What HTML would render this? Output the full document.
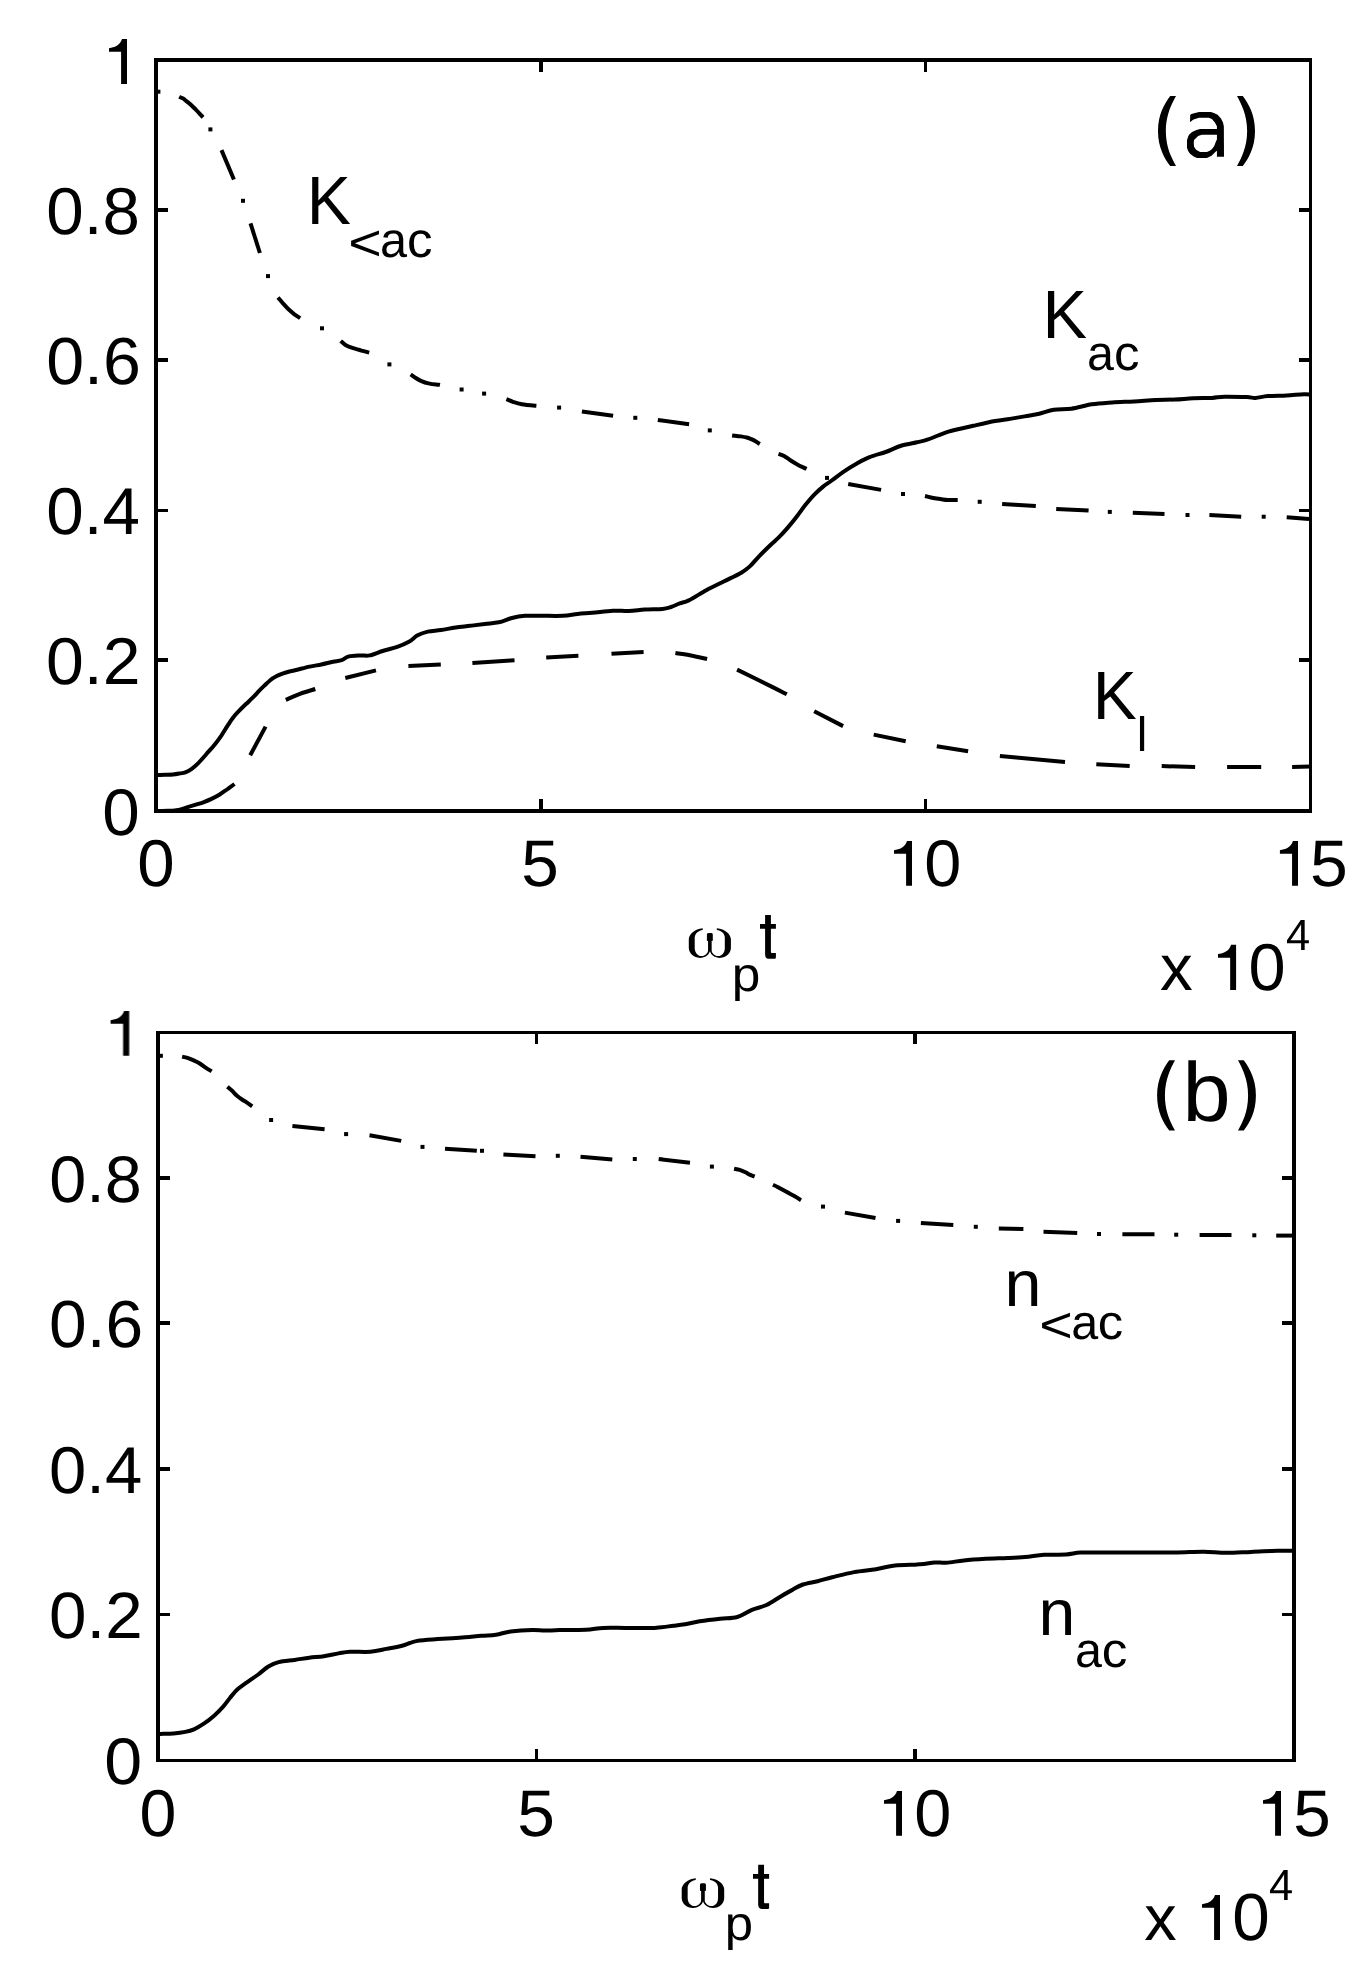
<!DOCTYPE html>
<html><head><meta charset="utf-8"><title>Figure</title>
<style>html,body{margin:0;padding:0;background:#fff;width:1370px;height:1980px;overflow:hidden}svg{display:block;-webkit-font-smoothing:antialiased;text-rendering:geometricPrecision}</style>
</head><body>
<svg width="1370" height="1980" viewBox="0 0 1370 1980">
<rect width="1370" height="1980" fill="#fff"/>
<g fill="#000" style="font-kerning:none;will-change:transform">
<rect x="154.0" y="58.0" width="4.0" height="755.0"/>
<rect x="156.0" y="58.0" width="1156.0" height="4.0"/>
<rect x="1309.0" y="58.0" width="3.0" height="755.0"/>
<rect x="154.0" y="809.0" width="1158.0" height="4.0"/>
<rect x="158.0" y="208.0" width="10.0" height="4.0"/>
<rect x="1299.0" y="208.0" width="10.0" height="4.0"/>
<rect x="158.0" y="358.0" width="10.0" height="4.0"/>
<rect x="1299.0" y="358.0" width="10.0" height="4.0"/>
<rect x="158.0" y="509.0" width="10.0" height="3.0"/>
<rect x="1299.0" y="509.0" width="10.0" height="3.0"/>
<rect x="158.0" y="658.0" width="10.0" height="4.0"/>
<rect x="1299.0" y="658.0" width="10.0" height="4.0"/>
<rect x="539.0" y="799.0" width="4.0" height="10.0"/>
<rect x="539.0" y="62.0" width="4.0" height="10.0"/>
<rect x="924.0" y="799.0" width="3.0" height="10.0"/>
<rect x="924.0" y="62.0" width="3.0" height="10.0"/>
<rect x="156.0" y="1031.0" width="4.0" height="731.0"/>
<rect x="156.0" y="1031.0" width="1140.0" height="3.0"/>
<rect x="1292.0" y="1031.0" width="4.0" height="731.0"/>
<rect x="156.0" y="1759.0" width="1140.0" height="3.0"/>
<rect x="160.0" y="1176.0" width="10.0" height="4.0"/>
<rect x="1282.0" y="1176.0" width="10.0" height="4.0"/>
<rect x="160.0" y="1321.0" width="10.0" height="4.0"/>
<rect x="1282.0" y="1321.0" width="10.0" height="4.0"/>
<rect x="160.0" y="1467.0" width="10.0" height="4.0"/>
<rect x="1282.0" y="1467.0" width="10.0" height="4.0"/>
<rect x="160.0" y="1613.0" width="10.0" height="3.0"/>
<rect x="1282.0" y="1613.0" width="10.0" height="3.0"/>
<rect x="535.0" y="1749.0" width="3.0" height="10.0"/>
<rect x="535.0" y="1034.0" width="3.0" height="10.0"/>
<rect x="913.0" y="1749.0" width="4.0" height="10.0"/>
<rect x="913.0" y="1034.0" width="4.0" height="10.0"/>
<path d="M156.0 775.0C157.5 775.0 162.2 774.9 165.0 774.8C167.8 774.7 170.5 774.7 173.0 774.5C175.5 774.3 177.9 773.8 180.0 773.4C182.1 773.0 183.4 773.0 185.3 772.3C187.2 771.6 189.4 770.5 191.4 769.1C193.4 767.7 195.0 766.4 197.5 763.9C200.0 761.4 203.4 757.5 206.3 754.2C209.2 750.9 212.5 747.3 215.0 744.2C217.5 741.1 219.1 738.8 221.2 735.8C223.2 732.8 225.4 729.1 227.3 726.2C229.2 723.3 230.8 720.6 232.6 718.3C234.3 716.0 235.6 714.5 237.8 712.2C240.0 709.9 243.2 706.7 245.7 704.3C248.2 701.9 250.5 699.9 252.7 697.7C254.9 695.5 256.9 693.2 258.8 691.2C260.7 689.2 262.2 687.7 264.1 685.9C266.0 684.1 268.2 681.8 270.2 680.2C272.2 678.6 274.2 677.4 276.3 676.3C278.4 675.2 280.3 674.4 282.5 673.6C284.7 672.8 287.4 672.0 289.5 671.5C291.6 671.0 291.6 671.1 295.0 670.3C298.4 669.5 305.2 667.6 309.6 666.6C314.0 665.6 317.4 665.3 321.3 664.5C325.2 663.7 329.6 662.5 333.0 661.8C336.4 661.1 339.0 661.0 341.7 660.1C344.4 659.2 345.8 657.2 349.0 656.4C352.2 655.6 357.3 655.6 360.7 655.4C364.1 655.2 365.9 656.1 369.5 655.4C373.1 654.7 378.0 652.4 382.6 651.0C387.2 649.6 392.8 648.4 397.2 646.9C401.6 645.4 405.5 643.7 408.9 641.8C412.3 639.9 414.5 637.0 417.6 635.3C420.8 633.6 423.9 632.5 427.8 631.6C431.7 630.7 436.4 630.8 441.0 630.1C445.6 629.4 450.7 628.2 455.6 627.5C460.5 626.8 465.3 626.4 470.2 625.8C475.1 625.2 480.0 624.5 484.8 623.9C489.6 623.3 494.3 623.3 498.8 622.3C503.3 621.3 507.5 619.1 511.9 618.0C516.3 616.9 520.1 616.2 525.0 615.8C529.9 615.4 534.8 615.8 541.1 615.8C547.4 615.8 556.9 616.1 563.0 615.8C569.1 615.5 572.7 614.4 577.6 613.9C582.5 613.4 586.4 613.3 592.2 612.8C598.0 612.3 606.5 611.0 612.6 610.7C618.7 610.4 623.4 611.2 628.7 611.0C634.1 610.8 639.1 609.9 644.7 609.5C650.3 609.1 657.9 609.3 662.3 608.9C666.7 608.5 668.1 607.9 671.0 607.0C673.9 606.1 676.8 604.5 679.8 603.4C682.8 602.3 684.4 602.6 688.8 600.4C693.2 598.2 700.5 593.4 706.3 590.2C712.1 587.1 718.0 584.4 723.8 581.5C729.6 578.6 736.9 575.3 741.3 572.7C745.7 570.1 747.2 568.8 750.1 566.1C753.0 563.4 755.4 560.1 758.8 556.6C762.2 553.1 767.1 548.3 770.5 545.0C773.9 541.7 776.4 539.8 779.3 536.9C782.2 534.0 785.1 530.8 788.0 527.4C790.9 524.0 793.9 520.3 796.8 516.5C799.7 512.7 802.6 508.4 805.5 504.8C808.4 501.2 811.4 497.6 814.3 494.6C817.2 491.6 820.2 489.0 823.1 486.6C826.0 484.2 828.3 483.0 831.7 480.5C835.1 478.0 839.3 474.6 843.4 471.8C847.5 469.0 852.1 466.1 856.5 463.7C860.9 461.3 864.7 459.1 869.6 457.2C874.5 455.2 880.3 453.9 885.7 452.0C891.1 450.1 895.2 447.4 901.8 445.5C908.4 443.6 917.3 442.7 925.1 440.4C932.9 438.1 940.5 434.0 948.5 431.6C956.5 429.2 965.5 427.6 973.3 425.8C981.1 424.0 989.1 422.1 995.2 421.0C1001.3 419.9 1005.1 419.7 1010.0 418.9C1014.9 418.1 1019.7 417.2 1024.6 416.4C1029.5 415.5 1034.3 414.9 1039.2 413.8C1044.1 412.7 1048.5 410.6 1053.8 409.7C1059.1 408.8 1065.0 409.6 1071.3 408.7C1077.6 407.8 1085.0 405.4 1091.8 404.3C1098.6 403.2 1105.2 402.9 1112.2 402.4C1119.2 401.9 1126.8 401.8 1134.1 401.4C1141.4 401.0 1149.2 400.2 1156.0 399.9C1162.8 399.6 1168.6 399.8 1174.8 399.5C1181.0 399.2 1187.2 398.6 1193.4 398.3C1199.6 398.0 1206.8 398.2 1212.0 397.9C1217.2 397.6 1218.7 396.8 1224.5 396.7C1230.3 396.6 1241.6 396.9 1246.8 397.1C1252.0 397.3 1252.0 398.1 1255.5 397.9C1259.0 397.7 1262.7 396.5 1267.9 396.1C1273.1 395.7 1280.5 395.7 1286.5 395.4C1292.5 395.1 1299.9 394.3 1303.9 394.2C1307.9 394.1 1309.4 394.4 1310.5 394.5" fill="none" stroke="#000" stroke-width="4" stroke-linejoin="round" stroke-linecap="butt"/>
<path d="M158.0 1734.0C158.4 1734.0 157.8 1734.0 160.4 1733.9C163.0 1733.8 169.4 1733.7 173.5 1733.4C177.6 1733.1 181.8 1732.6 185.2 1731.9C188.6 1731.2 190.8 1730.7 194.0 1729.3C197.2 1727.9 200.8 1725.7 204.2 1723.4C207.6 1721.1 211.2 1718.2 214.4 1715.4C217.6 1712.6 220.5 1709.6 223.2 1706.6C225.9 1703.6 228.1 1700.1 230.5 1697.2C232.9 1694.3 235.1 1691.5 237.8 1689.1C240.5 1686.7 243.1 1685.0 246.5 1682.6C249.9 1680.2 254.5 1677.2 258.2 1674.5C261.8 1671.8 265.0 1668.6 268.4 1666.5C271.8 1664.4 274.2 1663.2 278.6 1662.1C283.0 1661.0 289.6 1660.6 294.7 1659.9C299.8 1659.2 304.4 1658.3 309.3 1657.7C314.2 1657.1 319.0 1657.0 323.9 1656.3C328.8 1655.6 334.1 1654.2 338.5 1653.4C342.9 1652.7 344.7 1652.1 350.0 1651.8C355.3 1651.5 364.3 1652.3 370.4 1651.8C376.5 1651.3 381.4 1649.9 386.5 1648.9C391.6 1647.9 396.0 1647.3 401.1 1646.0C406.2 1644.7 411.1 1642.1 417.2 1640.9C423.3 1639.8 430.6 1639.6 437.6 1639.1C444.7 1638.6 452.2 1638.2 459.5 1637.7C466.8 1637.2 475.3 1636.3 481.4 1635.8C487.5 1635.3 491.1 1635.4 496.0 1634.7C500.9 1634.0 504.5 1632.2 510.6 1631.4C516.7 1630.6 526.8 1630.0 532.5 1629.9C538.2 1629.8 540.5 1630.6 545.0 1630.6C549.5 1630.6 552.8 1630.2 559.6 1630.1C566.4 1630.0 578.6 1630.2 585.9 1629.8C593.2 1629.4 596.8 1628.2 603.4 1627.9C610.0 1627.6 616.8 1627.9 625.3 1627.9C633.8 1627.9 646.5 1628.3 654.5 1627.9C662.5 1627.5 668.4 1626.3 673.5 1625.7C678.6 1625.1 680.7 1624.9 685.1 1624.2C689.5 1623.5 693.9 1622.2 699.7 1621.3C705.6 1620.4 713.9 1619.4 720.2 1618.7C726.5 1618.0 732.0 1618.5 737.3 1617.0C742.6 1615.5 747.0 1611.8 751.9 1609.8C756.8 1607.8 761.6 1607.3 766.5 1605.0C771.4 1602.7 776.7 1598.8 781.1 1596.2C785.5 1593.6 789.1 1591.5 792.8 1589.6C796.4 1587.6 798.9 1585.9 803.0 1584.5C807.1 1583.1 812.7 1582.4 817.6 1581.2C822.5 1580.0 826.1 1578.7 832.2 1577.2C838.3 1575.7 846.8 1573.4 854.1 1572.1C861.4 1570.8 869.2 1570.3 876.0 1569.2C882.8 1568.1 887.7 1566.3 895.0 1565.5C902.3 1564.7 913.4 1564.8 920.0 1564.3C926.6 1563.8 930.2 1562.7 934.6 1562.4C939.0 1562.2 941.4 1563.1 946.3 1562.8C951.2 1562.5 957.2 1561.1 963.8 1560.4C970.4 1559.7 978.4 1559.2 985.7 1558.8C993.0 1558.4 1001.0 1558.3 1007.6 1558.0C1014.2 1557.7 1019.0 1557.5 1025.1 1557.0C1031.2 1556.5 1037.3 1555.2 1044.1 1554.8C1050.9 1554.4 1059.9 1554.9 1066.0 1554.5C1072.1 1554.1 1074.5 1552.9 1080.6 1552.6C1086.7 1552.3 1096.0 1552.6 1102.5 1552.6C1109.0 1552.6 1111.4 1552.6 1119.3 1552.6C1127.2 1552.6 1140.3 1552.4 1150.0 1552.4C1159.7 1552.4 1168.5 1552.5 1177.4 1552.4C1186.4 1552.3 1195.5 1551.6 1203.7 1551.7C1211.9 1551.8 1218.5 1552.8 1226.4 1552.8C1234.3 1552.8 1242.5 1552.2 1251.0 1551.9C1259.5 1551.6 1270.0 1551.0 1277.2 1550.8C1284.4 1550.6 1291.2 1550.7 1294.0 1550.7" fill="none" stroke="#000" stroke-width="4" stroke-linejoin="round" stroke-linecap="butt"/>
<path d="M156.0 811.0C158.0 811.0 164.8 810.9 168.0 810.8C171.2 810.7 173.0 810.6 175.0 810.4C177.0 810.2 178.5 810.1 179.8 809.8C181.1 809.5 181.8 809.1 183.0 808.7C184.2 808.3 184.9 808.0 186.9 807.4C188.9 806.8 192.4 805.8 195.1 804.9C197.8 804.0 200.6 803.3 203.3 802.3C206.0 801.3 208.8 800.2 211.5 798.9C214.2 797.6 217.0 796.2 219.7 794.5C222.4 792.8 225.4 790.5 227.9 788.8C230.4 787.0 233.4 784.8 234.5 784.0" fill="none" stroke="#000" stroke-width="4" stroke-linejoin="round" stroke-linecap="butt"/>
<path d="M250.2 755.3L265.6 726.6" fill="none" stroke="#000" stroke-width="4" stroke-linejoin="round" stroke-linecap="butt"/>
<path d="M285.8 699.9C288.2 698.9 295.1 695.6 300.0 693.8C304.9 692.0 312.8 689.8 315.3 689.0" fill="none" stroke="#000" stroke-width="4" stroke-linejoin="round" stroke-linecap="butt"/>
<path d="M345.3 678.0L376.0 670.4" fill="none" stroke="#000" stroke-width="4" stroke-linejoin="round" stroke-linecap="butt"/>
<path d="M408.4 666.0L440.8 664.5" fill="none" stroke="#000" stroke-width="4" stroke-linejoin="round" stroke-linecap="butt"/>
<path d="M472.4 662.9L514.5 660.3" fill="none" stroke="#000" stroke-width="4" stroke-linejoin="round" stroke-linecap="butt"/>
<path d="M546.2 657.4L578.4 655.7" fill="none" stroke="#000" stroke-width="4" stroke-linejoin="round" stroke-linecap="butt"/>
<path d="M611.5 653.7L643.6 652.0" fill="none" stroke="#000" stroke-width="4" stroke-linejoin="round" stroke-linecap="butt"/>
<path d="M675.4 653.1C678.0 653.5 685.7 654.5 691.0 655.5C696.3 656.5 704.4 658.4 707.1 659.0" fill="none" stroke="#000" stroke-width="4" stroke-linejoin="round" stroke-linecap="butt"/>
<path d="M737.1 669.6C743.0 672.5 764.3 683.0 772.6 687.1C780.9 691.2 784.4 693.1 786.8 694.3" fill="none" stroke="#000" stroke-width="4" stroke-linejoin="round" stroke-linecap="butt"/>
<path d="M814.2 711.2L843.1 726.1" fill="none" stroke="#000" stroke-width="4" stroke-linejoin="round" stroke-linecap="butt"/>
<path d="M873.7 734.6L905.7 741.2" fill="none" stroke="#000" stroke-width="4" stroke-linejoin="round" stroke-linecap="butt"/>
<path d="M936.8 746.2L968.1 751.2" fill="none" stroke="#000" stroke-width="4" stroke-linejoin="round" stroke-linecap="butt"/>
<path d="M999.9 756.1L1065.0 761.9" fill="none" stroke="#000" stroke-width="4" stroke-linejoin="round" stroke-linecap="butt"/>
<path d="M1096.3 764.3L1129.7 766.1" fill="none" stroke="#000" stroke-width="4" stroke-linejoin="round" stroke-linecap="butt"/>
<path d="M1161.7 766.1L1195.1 767.0" fill="none" stroke="#000" stroke-width="4" stroke-linejoin="round" stroke-linecap="butt"/>
<path d="M1227.1 767.0L1261.2 767.0" fill="none" stroke="#000" stroke-width="4" stroke-linejoin="round" stroke-linecap="butt"/>
<path d="M1292.1 767.0L1310.5 766.6" fill="none" stroke="#000" stroke-width="4" stroke-linejoin="round" stroke-linecap="butt"/>
<rect x="156.4" y="89.7" width="4" height="4"/>
<path d="M179.2 96.8C179.8 97.1 181.9 97.9 183.1 98.6C184.3 99.3 185.0 100.0 186.4 101.1C187.8 102.2 189.9 103.8 191.4 105.2C192.9 106.6 194.2 108.0 195.6 109.4C197.0 110.8 198.4 112.3 199.6 113.6C200.8 114.9 202.4 116.7 203.0 117.3" fill="none" stroke="#000" stroke-width="4" stroke-linejoin="round" stroke-linecap="butt"/>
<rect x="208.4" y="127.4" width="4" height="4"/>
<path d="M221.5 150.1L233.9 179.5" fill="none" stroke="#000" stroke-width="4" stroke-linejoin="round" stroke-linecap="butt"/>
<rect x="241.0" y="198.8" width="4" height="4"/>
<path d="M250.5 223.3L259.9 253.0" fill="none" stroke="#000" stroke-width="4" stroke-linejoin="round" stroke-linecap="butt"/>
<rect x="266.0" y="274.1" width="4" height="4"/>
<path d="M278.0 297.5C278.8 298.4 281.1 301.2 282.8 303.2C284.6 305.2 286.6 307.5 288.5 309.3C290.4 311.1 292.2 312.6 294.1 314.1C296.1 315.6 299.2 317.5 300.2 318.2" fill="none" stroke="#000" stroke-width="4" stroke-linejoin="round" stroke-linecap="butt"/>
<rect x="320.0" y="326.3" width="4" height="4"/>
<path d="M340.7 341.0C341.5 341.7 343.9 344.0 345.5 345.0C347.1 346.0 348.2 346.4 350.3 347.2C352.4 348.0 355.2 348.7 358.3 349.6C361.4 350.5 367.4 352.1 369.2 352.6" fill="none" stroke="#000" stroke-width="4" stroke-linejoin="round" stroke-linecap="butt"/>
<rect x="387.4" y="362.4" width="4" height="4"/>
<path d="M410.7 374.4C411.6 375.0 414.1 376.9 415.8 378.0C417.5 379.1 418.8 379.9 420.9 380.8C423.0 381.7 425.9 382.8 428.5 383.4C431.1 384.0 434.3 384.4 436.2 384.6C438.1 384.9 439.4 384.8 440.0 384.9" fill="none" stroke="#000" stroke-width="4" stroke-linejoin="round" stroke-linecap="butt"/>
<rect x="459.6" y="387.5" width="4" height="4"/>
<rect x="482.1" y="391.6" width="4" height="4"/>
<path d="M506.4 399.2C507.5 399.6 510.4 400.9 513.0 401.8C515.6 402.7 517.9 403.6 521.8 404.3C525.7 405.0 534.0 405.6 536.4 405.8" fill="none" stroke="#000" stroke-width="4" stroke-linejoin="round" stroke-linecap="butt"/>
<rect x="557.1" y="405.6" width="4" height="4"/>
<path d="M581.9 411.4L613.1 415.8" fill="none" stroke="#000" stroke-width="4" stroke-linejoin="round" stroke-linecap="butt"/>
<rect x="633.3" y="415.8" width="4" height="4"/>
<path d="M657.8 419.9L689.1 424.2" fill="none" stroke="#000" stroke-width="4" stroke-linejoin="round" stroke-linecap="butt"/>
<rect x="707.8" y="428.4" width="4" height="4"/>
<path d="M732.1 435.4C733.5 435.6 738.4 436.0 740.8 436.4C743.2 436.8 745.0 437.1 746.7 437.5C748.5 437.9 749.8 438.5 751.3 439.1C752.8 439.8 754.5 440.6 755.9 441.4C757.3 442.2 759.1 443.7 759.8 444.1" fill="none" stroke="#000" stroke-width="4" stroke-linejoin="round" stroke-linecap="butt"/>
<path d="M778.5 453.9C779.4 454.2 782.1 454.9 784.1 456.0C786.1 457.1 788.5 459.1 790.7 460.5C792.9 461.9 794.7 463.0 797.3 464.4C799.9 465.8 805.0 468.2 806.5 469.0" fill="none" stroke="#000" stroke-width="4" stroke-linejoin="round" stroke-linecap="butt"/>
<rect x="825.0" y="475.9" width="4" height="4"/>
<path d="M848.2 484.0L881.1 489.9" fill="none" stroke="#000" stroke-width="4" stroke-linejoin="round" stroke-linecap="butt"/>
<rect x="901.0" y="492.0" width="4" height="4"/>
<path d="M925.0 496.0C926.4 496.3 930.6 497.5 933.2 498.0C935.8 498.5 938.1 498.8 940.5 499.1C942.9 499.4 944.9 499.9 947.8 500.0C950.7 500.1 956.1 500.0 957.7 500.0" fill="none" stroke="#000" stroke-width="4" stroke-linejoin="round" stroke-linecap="butt"/>
<rect x="977.7" y="499.8" width="4" height="4"/>
<path d="M1002.1 503.9L1035.8 505.9" fill="none" stroke="#000" stroke-width="4" stroke-linejoin="round" stroke-linecap="butt"/>
<path d="M1056.2 509.0L1088.6 510.6" fill="none" stroke="#000" stroke-width="4" stroke-linejoin="round" stroke-linecap="butt"/>
<rect x="1107.8" y="509.9" width="4" height="4"/>
<path d="M1132.8 512.8L1164.5 514.1" fill="none" stroke="#000" stroke-width="4" stroke-linejoin="round" stroke-linecap="butt"/>
<rect x="1185.5" y="513.0" width="4" height="4"/>
<path d="M1209.4 515.0L1241.2 516.7" fill="none" stroke="#000" stroke-width="4" stroke-linejoin="round" stroke-linecap="butt"/>
<rect x="1261.7" y="514.7" width="4" height="4"/>
<path d="M1286.7 517.2L1309.0 518.9" fill="none" stroke="#000" stroke-width="4" stroke-linejoin="round" stroke-linecap="butt"/>
<rect x="158.9" y="1053.8" width="4" height="4"/>
<path d="M182.1 1056.7C183.0 1056.9 185.5 1057.3 187.4 1057.9C189.3 1058.5 191.5 1059.5 193.6 1060.4C195.7 1061.3 197.7 1062.2 199.8 1063.5C201.9 1064.8 204.0 1066.6 206.0 1067.9C208.0 1069.2 210.7 1070.7 211.6 1071.3" fill="none" stroke="#000" stroke-width="4" stroke-linejoin="round" stroke-linecap="butt"/>
<path d="M227.4 1086.8C228.2 1087.5 230.5 1089.3 232.1 1090.8C233.7 1092.3 235.3 1094.3 237.0 1095.8C238.7 1097.2 240.3 1098.4 242.0 1099.5C243.7 1100.6 245.3 1101.5 247.0 1102.6C248.7 1103.7 251.3 1105.7 252.2 1106.3" fill="none" stroke="#000" stroke-width="4" stroke-linejoin="round" stroke-linecap="butt"/>
<rect x="269.1" y="1118.0" width="4" height="4"/>
<path d="M292.4 1126.0L324.6 1129.3" fill="none" stroke="#000" stroke-width="4" stroke-linejoin="round" stroke-linecap="butt"/>
<rect x="344.1" y="1132.1" width="4" height="4"/>
<path d="M369.5 1135.2L401.2 1140.9" fill="none" stroke="#000" stroke-width="4" stroke-linejoin="round" stroke-linecap="butt"/>
<rect x="420.5" y="1144.9" width="4" height="4"/>
<path d="M445.0 1148.7L476.8 1150.8" fill="none" stroke="#000" stroke-width="4" stroke-linejoin="round" stroke-linecap="butt"/>
<rect x="480.0" y="1148.8" width="4" height="4"/>
<path d="M503.4 1154.5L535.5 1156.3" fill="none" stroke="#000" stroke-width="4" stroke-linejoin="round" stroke-linecap="butt"/>
<rect x="555.8" y="1153.8" width="4" height="4"/>
<path d="M580.5 1156.8L612.3 1159.4" fill="none" stroke="#000" stroke-width="4" stroke-linejoin="round" stroke-linecap="butt"/>
<rect x="632.8" y="1157.0" width="4" height="4"/>
<path d="M658.7 1159.0L690.0 1162.7" fill="none" stroke="#000" stroke-width="4" stroke-linejoin="round" stroke-linecap="butt"/>
<rect x="709.9" y="1164.6" width="4" height="4"/>
<path d="M734.1 1168.8C735.0 1169.0 737.8 1169.3 739.7 1169.9C741.6 1170.5 743.8 1171.5 745.5 1172.3C747.2 1173.1 748.7 1174.2 750.2 1174.9C751.7 1175.6 753.9 1176.3 754.6 1176.6" fill="none" stroke="#000" stroke-width="4" stroke-linejoin="round" stroke-linecap="butt"/>
<path d="M773.0 1184.8C773.8 1185.2 775.4 1185.7 777.6 1186.9C779.8 1188.1 783.5 1190.2 786.4 1191.8C789.3 1193.4 792.8 1195.1 795.2 1196.5C797.6 1197.9 800.0 1199.7 801.0 1200.3" fill="none" stroke="#000" stroke-width="4" stroke-linejoin="round" stroke-linecap="butt"/>
<rect x="821.0" y="1204.6" width="4" height="4"/>
<path d="M844.9 1212.6L875.5 1218.0" fill="none" stroke="#000" stroke-width="4" stroke-linejoin="round" stroke-linecap="butt"/>
<rect x="896.1" y="1218.9" width="4" height="4"/>
<path d="M920.9 1223.1L953.3 1225.0" fill="none" stroke="#000" stroke-width="4" stroke-linejoin="round" stroke-linecap="butt"/>
<rect x="973.8" y="1224.8" width="4" height="4"/>
<path d="M998.8 1228.5L1023.4 1229.0" fill="none" stroke="#000" stroke-width="4" stroke-linejoin="round" stroke-linecap="butt"/>
<path d="M1043.5 1231.8L1077.2 1232.9" fill="none" stroke="#000" stroke-width="4" stroke-linejoin="round" stroke-linecap="butt"/>
<rect x="1097.0" y="1232.0" width="4" height="4"/>
<path d="M1122.4 1234.2L1154.5 1234.3" fill="none" stroke="#000" stroke-width="4" stroke-linejoin="round" stroke-linecap="butt"/>
<rect x="1174.2" y="1232.7" width="4" height="4"/>
<path d="M1199.6 1234.9L1231.5 1234.9" fill="none" stroke="#000" stroke-width="4" stroke-linejoin="round" stroke-linecap="butt"/>
<rect x="1252.3" y="1233.3" width="4" height="4"/>
<path d="M1276.2 1235.6L1293.6 1235.6" fill="none" stroke="#000" stroke-width="4" stroke-linejoin="round" stroke-linecap="butt"/>
<path transform="translate(109.00 39.00) scale(1.0000 1.0067)" d="M0 9.2C5.5 8.3 11 6.6 13 0L18 0L18 44.7L12.1 44.7L12.1 12.7L0 12.7Z"/>
<text transform="translate(46.37 234.05) scale(0.6730 0.6638)" font-family='"Liberation Sans", sans-serif' font-size="100">0.8</text>
<text transform="translate(46.14 384.35) scale(0.6816 0.6652)" font-family='"Liberation Sans", sans-serif' font-size="100">0.6</text>
<text transform="translate(46.17 534.15) scale(0.6741 0.6624)" font-family='"Liberation Sans", sans-serif' font-size="100">0.4</text>
<text transform="translate(46.05 684.35) scale(0.6796 0.6638)" font-family='"Liberation Sans", sans-serif' font-size="100">0.2</text>
<text transform="translate(102.27 835.16) scale(0.6736 0.6582)" font-family='"Liberation Sans", sans-serif' font-size="100">0</text>
<text transform="translate(137.28 886.25) scale(0.6715 0.6610)" font-family='"Liberation Sans", sans-serif' font-size="100">0</text>
<text transform="translate(521.20 886.26) scale(0.6749 0.6593)" font-family='"Liberation Sans", sans-serif' font-size="100">5</text>
<path transform="translate(894.00 841.00) scale(1.0000 1.0000)" d="M0 9.2C5.5 8.3 11 6.6 13 0L18 0L18 44.7L12.1 44.7L12.1 12.7L0 12.7Z"/>
<text transform="translate(924.29 886.06) scale(0.6673 0.6596)" font-family='"Liberation Sans", sans-serif' font-size="100">0</text>
<path transform="translate(1279.90 841.00) scale(1.0056 1.0022)" d="M0 9.2C5.5 8.3 11 6.6 13 0L18 0L18 44.7L12.1 44.7L12.1 12.7L0 12.7Z"/>
<text transform="translate(1310.08 886.16) scale(0.6792 0.6564)" font-family='"Liberation Sans", sans-serif' font-size="100">5</text>
<path transform="translate(683.657 922.134) scale(0.03810 0.03785)" d="M500,160C290,170 135,330 135,450L135,680C135,820 260,945 430,945C560,945 660,870 690,770C720,870 820,945 950,945C1120,945 1240,820 1240,680L1240,450C1240,330 1090,170 870,160L870,205C975,215 1075,290 1080,400L1080,690C1080,820 995,895 915,895C815,895 745,820 735,760L735,500L765,490L765,330C765,300 740,290 690,290C640,290 610,300 610,330L610,490L640,500L640,760C630,820 560,895 460,895C380,895 295,820 290,690L290,400C300,290 400,215 500,205Z"/>
<text transform="translate(731.69 990.97) scale(0.5137 0.4831)" font-family='"Liberation Sans", sans-serif' font-size="100">p</text>
<path transform="translate(760.00 915.00) scale(1.0000 1.0000)" d="M5.1,0L10.9,0L10.9,9L15.9,9L15.9,13.8L10.9,13.8L10.9,36.8C10.9,37.8 11.5,38.1 12.1,38.1L15.9,38.1L15.9,42.5C15.9,43.3 15.3,43.8 14.7,43.8L8.3,43.8C6.5,43.8 5.1,42 5.1,39.4L5.1,13.8L0,13.8L0,9L5.1,9Z"/>
<text transform="translate(1159.96 990.10) scale(0.6548 0.6473)" font-family='"Liberation Sans", sans-serif' font-size="100">x</text>
<path transform="translate(1218.00 944.80) scale(1.0056 1.0134)" d="M0 9.2C5.5 8.3 11 6.6 13 0L18 0L18 44.7L12.1 44.7L12.1 12.7L0 12.7Z"/>
<text transform="translate(1248.39 990.15) scale(0.6673 0.6624)" font-family='"Liberation Sans", sans-serif' font-size="100">0</text>
<text transform="translate(1285.90 949.90) scale(0.4346 0.4361)" font-family='"Liberation Sans", sans-serif' font-size="100">4</text>
<path transform="translate(1152.000 89.994) scale(0.04138 0.04142)" d="M440,145L580,145C480,330 335,600 335,990C335,1390 480,1650 580,1835L440,1835C300,1650 145,1390 145,990C145,600 300,330 440,145Z"/>
<path fill-rule="evenodd" transform="translate(1182.964 105.947) scale(0.03364 0.03363)" d="M215,270L250,240L360,210L480,180L830,180L920,210L1030,265L1130,370L1190,490L1215,600L1220,1510L1010,1510L1010,1330L970,1360L850,1480L710,1545L420,1545L330,1510L210,1420L150,1330L120,1240L120,1020L150,920L180,860L270,775L400,715L510,688L1010,685L1010,600L985,560L950,490L860,390L770,350L480,350L360,385L300,410L230,470L210,470ZM1010,860L560,860L450,890L330,1010L320,1100L330,1210L390,1300L510,1370L710,1370L800,1330L870,1270L930,1190L980,1060L1010,1000Z"/>
<path transform="translate(1261.000 89.994) scale(-0.04138 0.04142)" d="M440,145L580,145C480,330 335,600 335,990C335,1390 480,1650 580,1835L440,1835C300,1650 145,1390 145,990C145,600 300,330 440,145Z"/>
<text transform="translate(306.67 224.00) scale(0.6623 0.6846)" font-family='"Liberation Sans", sans-serif' font-size="100">K</text>
<text transform="translate(348.27 259.61) scale(0.5743 0.5061)" font-family='"Liberation Sans", sans-serif' font-size="100">&lt;</text>
<text transform="translate(380.03 256.61) scale(0.4867 0.4983)" font-family='"Liberation Sans", sans-serif' font-size="100">a</text>
<text transform="translate(406.93 256.61) scale(0.5103 0.4983)" font-family='"Liberation Sans", sans-serif' font-size="100">c</text>
<text transform="translate(1042.42 338.00) scale(0.6676 0.6832)" font-family='"Liberation Sans", sans-serif' font-size="100">K</text>
<text transform="translate(1087.04 370.42) scale(0.4847 0.4910)" font-family='"Liberation Sans", sans-serif' font-size="100">a</text>
<text transform="translate(1113.93 370.42) scale(0.5103 0.4910)" font-family='"Liberation Sans", sans-serif' font-size="100">c</text>
<text transform="translate(1092.68 718.90) scale(0.6606 0.6817)" font-family='"Liberation Sans", sans-serif' font-size="100">K</text>
<text transform="translate(1136.68 751.00) scale(0.4779 0.4830)" font-family='"Liberation Sans", sans-serif' font-size="100">l</text>
<path transform="translate(110.60 1011.00) scale(1.0333 1.0022)" d="M0 9.2C5.5 8.3 11 6.6 13 0L18 0L18 44.7L12.1 44.7L12.1 12.7L0 12.7Z"/>
<text transform="translate(49.30 1201.86) scale(0.6661 0.6582)" font-family='"Liberation Sans", sans-serif' font-size="100">0.8</text>
<text transform="translate(49.06 1347.45) scale(0.6771 0.6667)" font-family='"Liberation Sans", sans-serif' font-size="100">0.6</text>
<text transform="translate(49.08 1492.95) scale(0.6696 0.6624)" font-family='"Liberation Sans", sans-serif' font-size="100">0.4</text>
<text transform="translate(49.07 1637.96) scale(0.6742 0.6554)" font-family='"Liberation Sans", sans-serif' font-size="100">0.2</text>
<text transform="translate(104.14 1784.06) scale(0.6820 0.6596)" font-family='"Liberation Sans", sans-serif' font-size="100">0</text>
<text transform="translate(139.51 1836.25) scale(0.6631 0.6610)" font-family='"Liberation Sans", sans-serif' font-size="100">0</text>
<text transform="translate(517.19 1836.26) scale(0.6770 0.6593)" font-family='"Liberation Sans", sans-serif' font-size="100">5</text>
<path transform="translate(884.00 1791.00) scale(1.0000 1.0022)" d="M0 9.2C5.5 8.3 11 6.6 13 0L18 0L18 44.7L12.1 44.7L12.1 12.7L0 12.7Z"/>
<text transform="translate(914.29 1836.15) scale(0.6673 0.6624)" font-family='"Liberation Sans", sans-serif' font-size="100">0</text>
<path transform="translate(1263.00 1791.00) scale(1.0000 1.0022)" d="M0 9.2C5.5 8.3 11 6.6 13 0L18 0L18 44.7L12.1 44.7L12.1 12.7L0 12.7Z"/>
<text transform="translate(1293.30 1836.16) scale(0.6749 0.6564)" font-family='"Liberation Sans", sans-serif' font-size="100">5</text>
<path transform="translate(676.508 1872.114) scale(0.03846 0.03797)" d="M500,160C290,170 135,330 135,450L135,680C135,820 260,945 430,945C560,945 660,870 690,770C720,870 820,945 950,945C1120,945 1240,820 1240,680L1240,450C1240,330 1090,170 870,160L870,205C975,215 1075,290 1080,400L1080,690C1080,820 995,895 915,895C815,895 745,820 735,760L735,500L765,490L765,330C765,300 740,290 690,290C640,290 610,300 610,330L610,490L640,500L640,760C630,820 560,895 460,895C380,895 295,820 290,690L290,400C300,290 400,215 500,205Z"/>
<text transform="translate(724.72 1939.85) scale(0.5092 0.4845)" font-family='"Liberation Sans", sans-serif' font-size="100">p</text>
<path transform="translate(753.00 1864.80) scale(1.0126 1.0091)" d="M5.1,0L10.9,0L10.9,9L15.9,9L15.9,13.8L10.9,13.8L10.9,36.8C10.9,37.8 11.5,38.1 12.1,38.1L15.9,38.1L15.9,42.5C15.9,43.3 15.3,43.8 14.7,43.8L8.3,43.8C6.5,43.8 5.1,42 5.1,39.4L5.1,13.8L0,13.8L0,9L5.1,9Z"/>
<text transform="translate(1144.17 1939.70) scale(0.6485 0.6398)" font-family='"Liberation Sans", sans-serif' font-size="100">x</text>
<path transform="translate(1202.00 1895.00) scale(1.0000 1.0067)" d="M0 9.2C5.5 8.3 11 6.6 13 0L18 0L18 44.7L12.1 44.7L12.1 12.7L0 12.7Z"/>
<text transform="translate(1232.27 1940.25) scale(0.6736 0.6652)" font-family='"Liberation Sans", sans-serif' font-size="100">0</text>
<text transform="translate(1269.00 1900.00) scale(0.4346 0.4375)" font-family='"Liberation Sans", sans-serif' font-size="100">4</text>
<path transform="translate(1151.133 1054.277) scale(0.04115 0.04154)" d="M440,145L580,145C480,330 335,600 335,990C335,1390 480,1650 580,1835L440,1835C300,1650 145,1390 145,990C145,600 300,330 440,145Z"/>
<text transform="translate(1182.42 1120.88) scale(0.8650 0.8388)" font-family='"Liberation Sans", sans-serif' font-size="100">b</text>
<path transform="translate(1261.867 1054.277) scale(-0.04115 0.04154)" d="M440,145L580,145C480,330 335,600 335,990C335,1390 480,1650 580,1835L440,1835C300,1650 145,1390 145,990C145,600 300,330 440,145Z"/>
<text transform="translate(1004.49 1306.00) scale(0.6638 0.6523)" font-family='"Liberation Sans", sans-serif' font-size="100">n</text>
<text transform="translate(1039.17 1342.38) scale(0.5743 0.5022)" font-family='"Liberation Sans", sans-serif' font-size="100">&lt;</text>
<text transform="translate(1071.14 1339.42) scale(0.4847 0.4892)" font-family='"Liberation Sans", sans-serif' font-size="100">a</text>
<text transform="translate(1097.84 1339.42) scale(0.5079 0.4892)" font-family='"Liberation Sans", sans-serif' font-size="100">c</text>
<text transform="translate(1038.61 1635.00) scale(0.6615 0.6523)" font-family='"Liberation Sans", sans-serif' font-size="100">n</text>
<text transform="translate(1074.94 1667.42) scale(0.4847 0.4928)" font-family='"Liberation Sans", sans-serif' font-size="100">a</text>
<text transform="translate(1101.72 1667.42) scale(0.5126 0.4928)" font-family='"Liberation Sans", sans-serif' font-size="100">c</text>
</g>
</svg>
</body></html>
